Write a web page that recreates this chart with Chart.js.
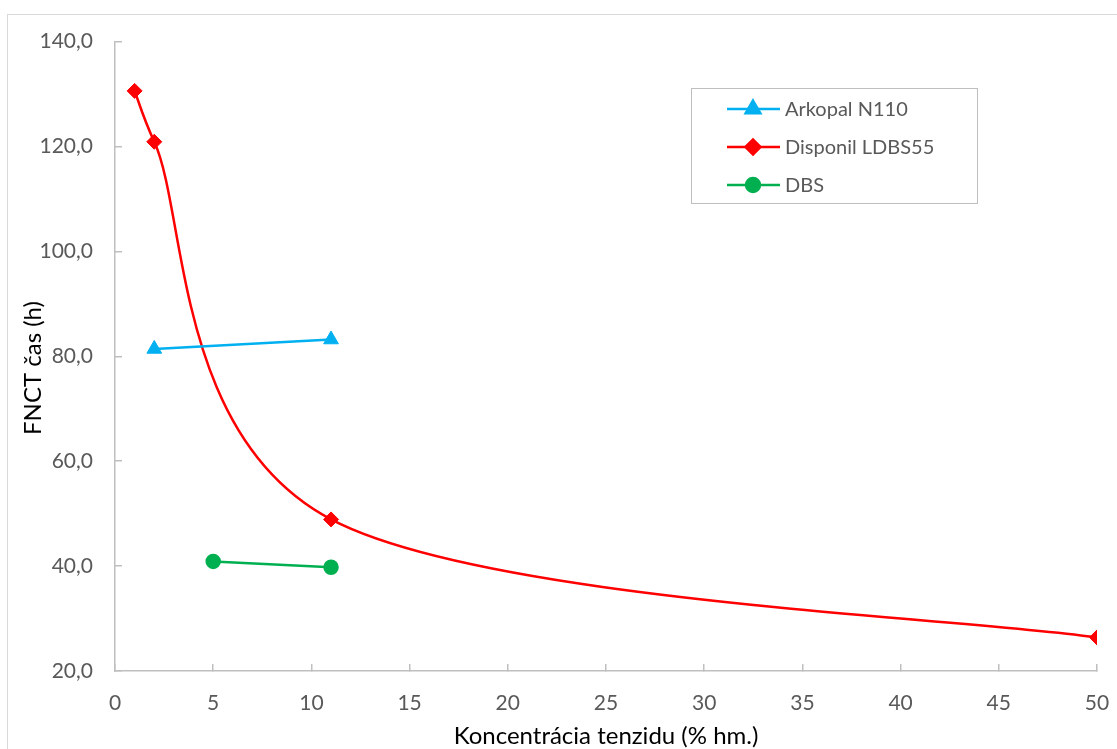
<!DOCTYPE html>
<html>
<head>
<meta charset="utf-8">
<script src="https://cdn.jsdelivr.net/npm/chart.js@4.4.1/dist/chart.umd.min.js"></script>
<style>
    html, body { margin: 0; padding: 0; background: #fff; overflow: hidden; }
    .wrap { position: relative; width: 1117px; height: 749px; }
    .frame { position: absolute; left: 7px; top: 14px; width: 1300px; height: 900px; border: 1px solid #d9d9d9; }
    #fnctChart { position: absolute; left: 0; top: 0; }
</style>
</head>
<body>
<div class="wrap">
    <div class="frame"></div>
    <canvas id="fnctChart" width="1117" height="749"></canvas>
</div>
<script>
// values
const seriesNames = ['Arkopal N110', 'Disponil LDBS55', 'DBS'];
const arkopalX = [2, 11];
const arkopalY = [81.4, 83.2];
const disponilX = [1, 2, 11, 50];
const disponilY = [130.6, 120.9, 48.9, 26.4];
const dbsX = [5, 11];
const dbsY = [40.9, 39.8];

const xTicks = [0, 5, 10, 15, 20, 25, 30, 35, 40, 45, 50];
const yTicks = [20, 40, 60, 80, 100, 120, 140];

const fontFamily = 'Lato, "Open Sans", sans-serif';

function toPoints(xs, ys) {
    return xs.map((x, i) => ({ x: x, y: ys[i] }));
}

// Excel style smoothed line: catmull-rom like control points, limited to half a segment
const excelSmooth = {
    id: 'excelSmooth',
    beforeDatasetDraw(chart, args) {
        const ds = chart.data.datasets[args.index];
        const line = args.meta.dataset;
        if (!ds.excelSmooth || !line) return;
        line.updateControlPoints(chart.chartArea);
        const pts = args.meta.data;
        const n = pts.length;
        for (let i = 0; i < n - 1; i++) {
            const p0 = pts[Math.max(i - 1, 0)];
            const p1 = pts[i];
            const p2 = pts[i + 1];
            const p3 = pts[Math.min(i + 2, n - 1)];
            const half = Math.hypot(p2.x - p1.x, p2.y - p1.y) / 2;
            let ax = (p2.x - p0.x) / 6, ay = (p2.y - p0.y) / 6;
            let la = Math.hypot(ax, ay);
            if (la > half) { ax *= half / la; ay *= half / la; }
            let bx = (p3.x - p1.x) / 6, by = (p3.y - p1.y) / 6;
            let lb = Math.hypot(bx, by);
            if (lb > half) { bx *= half / lb; by *= half / lb; }
            p1.cp2x = p1.x + ax;
            p1.cp2y = p1.y + ay;
            p2.cp1x = p2.x - bx;
            p2.cp1y = p2.y - by;
        }
        line._path = undefined;
    }
};

// inner legend box + rotated y title
const legendAndTitle = {
    id: 'legendAndTitle',
    afterDraw(chart) {
        const ctx = chart.ctx;
        ctx.save();

        // y axis title
        ctx.translate(33, 368);
        ctx.rotate(-Math.PI / 2);
        ctx.fillStyle = '#000';
        ctx.font = '24px ' + fontFamily;
        ctx.textAlign = 'center';
        ctx.textBaseline = 'middle';
        ctx.fillText('FNCT čas (h)', 0, 0);
        ctx.restore();

        // legend
        const boxLeft = 691.5, boxTop = 88.5, boxW = 286, boxH = 115;
        ctx.save();
        ctx.strokeStyle = '#bfbfbf';
        ctx.lineWidth = 1;
        ctx.strokeRect(boxLeft, boxTop, boxW, boxH);
        const rowY = [109, 147, 185];
        chart.data.datasets.forEach((ds, i) => {
            const y = rowY[i];
            ctx.strokeStyle = ds.borderColor;
            ctx.lineWidth = ds.borderWidth;
            ctx.beginPath();
            ctx.moveTo(727, y);
            ctx.lineTo(780, y);
            ctx.stroke();
            ctx.fillStyle = ds.pointBackgroundColor;
            ctx.strokeStyle = ds.pointBorderColor;
            Chart.helpers.drawPoint(ctx, {
                pointStyle: ds.pointStyle,
                radius: ds.pointRadius,
                rotation: 0,
                borderWidth: ds.pointBorderWidth
            }, 753, y);
            ctx.fillStyle = '#595959';
            ctx.font = '20px ' + fontFamily;
            ctx.textAlign = 'left';
            ctx.textBaseline = 'middle';
            ctx.fillText(ds.label, 785, y + 1);
        });
        ctx.restore();
    }
};

const ctx = document.getElementById('fnctChart').getContext('2d');
const fnctChart = new Chart(ctx, {
    type: 'line',
    data: {
        datasets: [{
            label: seriesNames[0],
            data: toPoints(arkopalX, arkopalY),
            borderColor: '#00b0f0',
            backgroundColor: '#00b0f0',
            borderWidth: 2.5,
            pointStyle: 'triangle',
            pointRadius: 8.5,
            pointBackgroundColor: '#00b0f0',
            pointBorderColor: '#00b0f0',
            pointBorderWidth: 1,
            tension: 0
        }, {
            label: seriesNames[1],
            data: toPoints(disponilX, disponilY),
            borderColor: '#ff0000',
            backgroundColor: '#ff0000',
            borderWidth: 2.5,
            pointStyle: 'rectRot',
            pointRadius: 7.5,
            pointBackgroundColor: '#ff0000',
            pointBorderColor: '#ff0000',
            pointBorderWidth: 1,
            tension: 0.4,
            excelSmooth: true
        }, {
            label: seriesNames[2],
            data: toPoints(dbsX, dbsY),
            borderColor: '#00b050',
            backgroundColor: '#00b050',
            borderWidth: 2.5,
            pointStyle: 'circle',
            pointRadius: 7,
            pointBackgroundColor: '#00b050',
            pointBorderColor: '#00b050',
            pointBorderWidth: 1.5,
            tension: 0
        }]
    },
    options: {
        responsive: false,
        animation: false,
        layout: { padding: { top: 39, right: 20, left: 0, bottom: 0 } },
        plugins: {
            legend: { display: false },
            tooltip: { enabled: false }
        },
        scales: {
            x: {
                type: 'linear',
                min: 0,
                max: 50,
                afterFit(scale) {
                    scale.height = 78;
                    scale.paddingLeft = 0;
                    scale.paddingRight = 0;
                },
                afterBuildTicks(scale) { scale.ticks = xTicks.map(v => ({ value: v })); },
                border: { display: true, color: '#bfbfbf', width: 1.5 },
                grid: { drawOnChartArea: false, drawTicks: true, tickLength: -7, color: '#bfbfbf', lineWidth: 1.5 },
                ticks: {
                    color: '#595959',
                    font: { family: fontFamily, size: 21 },
                    padding: 27,
                    maxRotation: 0
                },
                title: {
                    display: true,
                    text: 'Koncentrácia tenzidu (% hm.)',
                    color: '#000',
                    font: { family: fontFamily, size: 24 },
                    padding: { top: 0, bottom: -2 }
                }
            },
            y: {
                type: 'linear',
                min: 20,
                max: 140,
                afterFit(scale) { scale.width = 115; },
                afterBuildTicks(scale) { scale.ticks = yTicks.map(v => ({ value: v })); },
                border: { display: true, color: '#bfbfbf', width: 1.5 },
                grid: { drawOnChartArea: false, drawTicks: true, tickLength: -7, color: '#bfbfbf', lineWidth: 1.5 },
                ticks: {
                    color: '#595959',
                    font: { family: fontFamily, size: 21 },
                    padding: 29,
                    callback: v => v.toFixed(1).replace('.', ',')
                }
            }
        }
    },
    plugins: [excelSmooth, legendAndTitle]
});
</script>
</body>
</html>
